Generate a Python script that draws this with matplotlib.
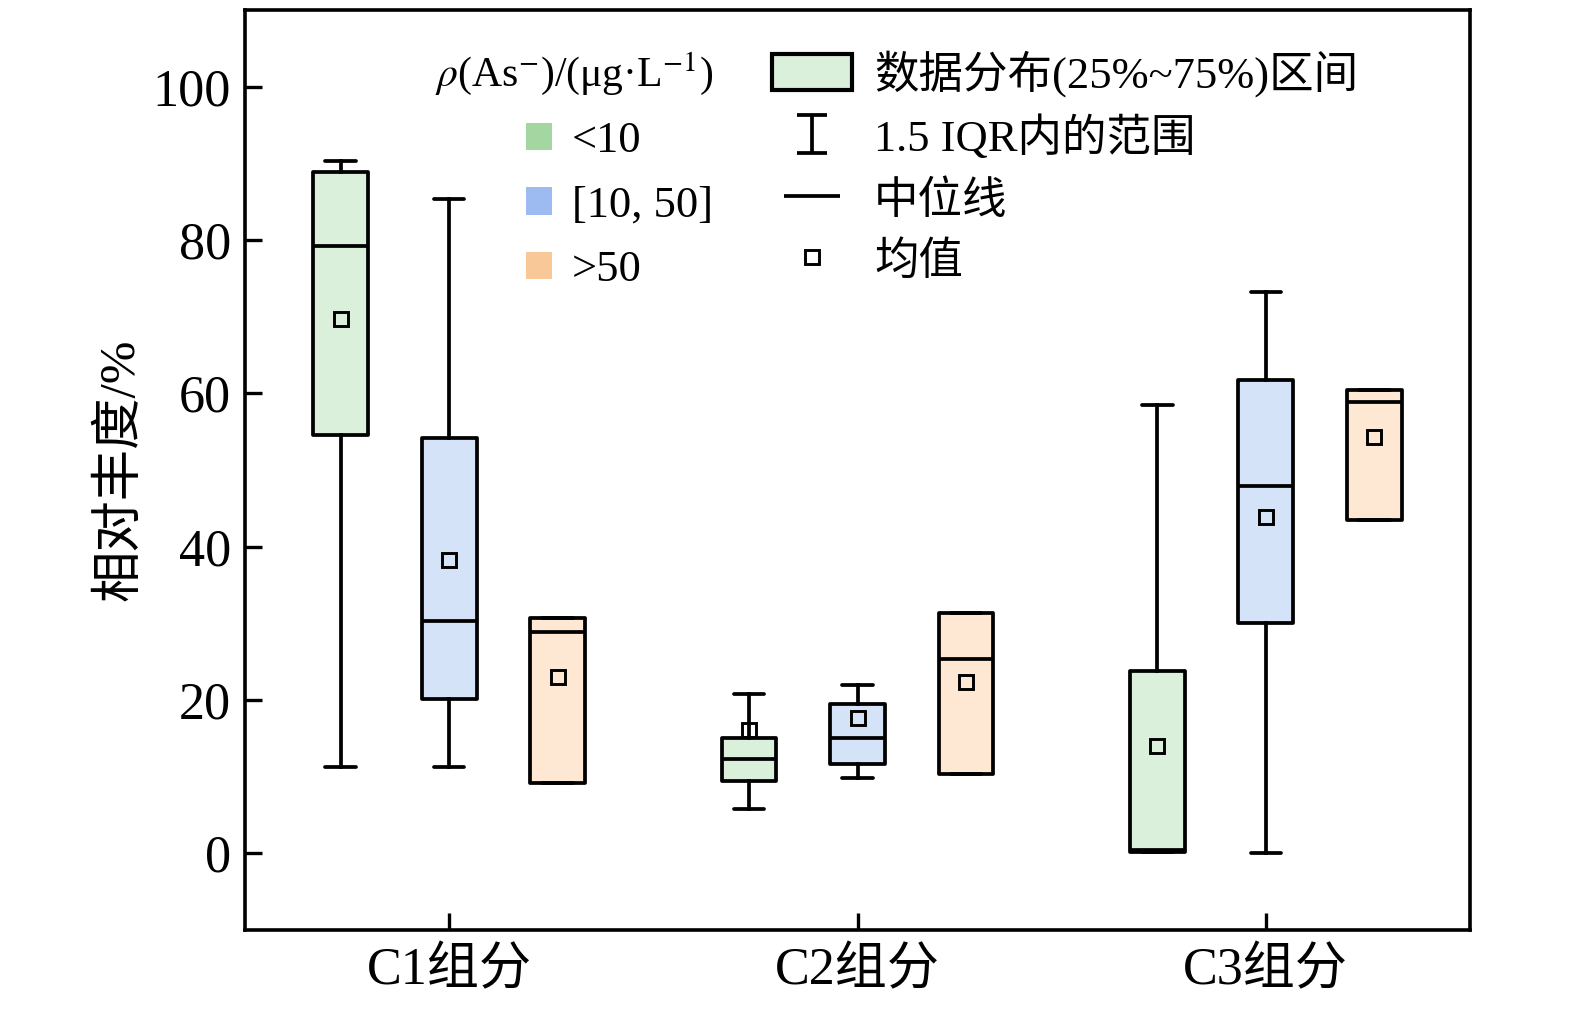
import numpy as np
import matplotlib
matplotlib.use("Agg")
import matplotlib.pyplot as plt
from matplotlib.path import Path
from matplotlib.patches import Patch
from matplotlib.lines import Line2D

plt.rcParams['font.family'] = ['Liberation Serif', 'Noto Sans CJK SC']
plt.rcParams['mathtext.fontset'] = 'stix'
plt.rcParams['axes.unicode_minus'] = True

# ---- data ----
components = ['C1组分', 'C2组分', 'C3组分']
groups = ['<10', '[10, 50]', '>50']
# per group: lists over components
whislo = {'<10': [11.3, 5.8, 0.2], '[10, 50]': [11.3, 9.8, 0.0], '>50': [9.2, 10.3, 43.5]}
q1 = {'<10': [54.6, 9.5, 0.2], '[10, 50]': [20.1, 11.7, 30.1], '>50': [9.2, 10.3, 43.5]}
med = {'<10': [79.2, 12.3, 0.5], '[10, 50]': [30.3, 15.0, 47.9], '>50': [28.9, 25.4, 58.9]}
q3 = {'<10': [88.9, 15.1, 23.8], '[10, 50]': [54.2, 19.5, 61.8], '>50': [30.7, 31.4, 60.4]}
whishi = {'<10': [90.3, 20.8, 58.5], '[10, 50]': [85.4, 21.9, 73.2], '>50': [30.7, 31.4, 60.4]}
means = {'<10': [69.7, 16.1, 14.0], '[10, 50]': [38.2, 17.6, 43.9], '>50': [23.0, 22.4, 54.3]}

box_colors = {'<10': '#DBF0DB', '[10, 50]': '#D5E3F8', '>50': '#FEE8D3'}
legend_colors = {'<10': '#A3D6A0', '[10, 50]': '#9DBBF0', '>50': '#F9C898'}

legend_title = r'$\rho$(As$^{-}$)/(μg·L$^{-1}$)'
legend2_labels = ['数据分布(25%~75%)区间', '1.5 IQR内的范围', '中位线', '均值']
ylabel = '相对丰度/%'

# ---- figure ----
fig = plt.figure(figsize=(15.75, 10.1), dpi=100)
ax = fig.add_axes([245/1575, 1-930/1010, (1470-245)/1575, (930-10)/1010])

lw = 2.7
offsets = [-0.266, 0.0, 0.266]
xc = np.arange(1, len(components)+1)
for gi, g in enumerate(groups):
    stats = []
    for ci in range(len(components)):
        stats.append(dict(whislo=whislo[g][ci], q1=q1[g][ci], med=med[g][ci],
                          q3=q3[g][ci], whishi=whishi[g][ci], mean=means[g][ci],
                          fliers=[]))
    pos = xc + offsets[gi]
    ax.bxp(stats, positions=pos, widths=0.134, capwidths=0.075,
           patch_artist=True, showmeans=True, manage_ticks=False,
           boxprops=dict(facecolor=box_colors[g], edgecolor='black', linewidth=lw,
                         joinstyle='round'),
           medianprops=dict(color='black', linewidth=lw),
           whiskerprops=dict(color='black', linewidth=lw),
           capprops=dict(color='black', linewidth=lw, solid_capstyle='round'),
           meanprops=dict(marker='s', markerfacecolor='none', markeredgecolor='black',
                          markersize=9.5, markeredgewidth=2.1))

ax.set_xlim(0.5, 3.5)
ax.set_ylim(-10, 110)
ax.set_xticks(xc)
ax.set_xticklabels(components)
ax.set_yticks(np.arange(0, 101, 20))
ax.tick_params(axis='both', direction='in', length=12, width=2.4, labelsize=37.5)
ax.tick_params(axis='y', pad=10)
ax.tick_params(axis='x', pad=12)
for s in ax.spines.values():
    s.set_linewidth(2.6)
ax.set_ylabel(ylabel, fontsize=37, labelpad=6)

# legend 1
h1 = [Patch(facecolor=legend_colors[g], edgecolor='none') for g in groups]
leg1 = ax.legend(h1, groups, title=legend_title, title_fontsize=30, fontsize=32,
                 frameon=False, loc='upper left', bbox_to_anchor=(435/1575, 1-50/1010),
                 bbox_transform=fig.transFigure, borderpad=0, borderaxespad=0,
                 handlelength=0.58, handleheight=0.58, handletextpad=0.45,
                 labelspacing=0.55, alignment='right')
ax.add_artist(leg1)

# legend 2
ibeam = Path([(-0.385, 0.5), (0.385, 0.5), (0, 0.5), (0, -0.5), (-0.385, -0.5), (0.385, -0.5)],
             [Path.MOVETO, Path.LINETO, Path.MOVETO, Path.LINETO, Path.MOVETO, Path.LINETO])
h2 = [Patch(facecolor=box_colors['<10'], edgecolor='black', linewidth=3.0),
      Line2D([], [], marker=ibeam, markersize=28, linestyle='none', color='black',
             markeredgewidth=2.7),
      Line2D([], [], marker='_', markersize=40, linestyle='none', color='black',
             markeredgewidth=2.7),
      Line2D([], [], marker='s', markersize=9.5, linestyle='none', markerfacecolor='none',
             markeredgecolor='black', markeredgewidth=2.1)]
leg2 = ax.legend(h2, legend2_labels, fontsize=32, frameon=False, loc='upper left',
                 bbox_to_anchor=(772/1575, 1-50/1010), bbox_transform=fig.transFigure,
                 borderpad=0, borderaxespad=0, handlelength=1.8, handleheight=0.9,
                 handletextpad=0.5, labelspacing=0.42, numpoints=1)

fig.savefig('out.png', dpi=100)
